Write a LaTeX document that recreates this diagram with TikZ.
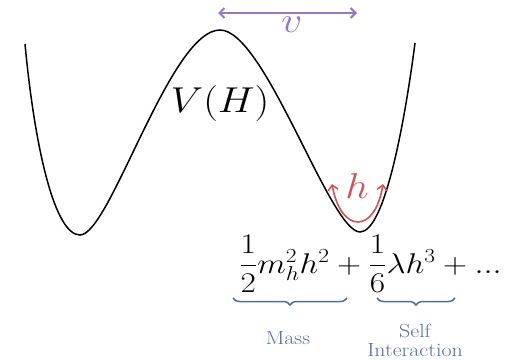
\RequirePackage{fix-cm}
\documentclass[tikz,border=0pt]{standalone}
\usepackage{amsmath}
\usetikzlibrary{arrows.meta,decorations.pathreplacing}
\definecolor{vpurple}{RGB}{150,120,195}
\definecolor{hred}{RGB}{205,85,90}
\definecolor{bblue}{RGB}{75,110,170}
\definecolor{tblue}{RGB}{85,110,160}
\tikzset{
  curve/.style={line width=1.5pt, black},
  varrow/.style={vpurple, line width=2pt, {Straight Barb[length=5pt,width=10pt]}-{Straight Barb[length=5pt,width=10pt]}},
  harrow/.style={hred, line width=1.6pt, {Straight Barb[length=5pt,width=10pt]}-{Straight Barb[length=5pt,width=10pt]}},
  bracestyle/.style={bblue, line width=1.5pt, decorate, decoration={brace, mirror, amplitude=7pt, aspect=0.5}},
  bigmath/.style={inner sep=0pt, font=\fontsize{36}{40}\selectfont},
  lab/.style={inner sep=0pt, tblue, font=\fontsize{19}{22}\selectfont, align=center}
}
\newcommand{\wide}[1]{\scalebox{1.15}[1]{#1}}
\begin{document}
\begin{tikzpicture}[x=1pt,y=-1pt]
\useasboundingbox (0,0) rectangle (529,359);
% potential curve
\draw[curve] (25,44) .. controls (35,150) and (55,235) .. (80,235)
  .. controls (110,235) and (170,30) .. (220,30)
  .. controls (265,30) and (330,232) .. (360,232)
  .. controls (385,232) and (405,120) .. (415,43);
% labels
\node[bigmath] (VH) at (220,103) {\wide{$V(H)$}};
\coordinate (vl) at (218,13);
\coordinate (vr) at (357,13);
\draw[varrow] (vl) -- (vr);
\node[bigmath, vpurple] (v) at (292,25) {\wide{$v$}};
\coordinate (hl) at (332,184);
\coordinate (hr) at (383,184);
\draw[harrow] (hl) .. controls (341,234) and (375,234) .. (hr);
\node[bigmath, hred] (h) at (357,186) {\wide{$h$}};
% formula
\node[inner sep=0pt, anchor=base west, font=\fontsize{28.5}{34}\selectfont] (F) at (239,273)
  {\scalebox{1.17}[1]{$\dfrac{1}{2}m_h^2h^2+\dfrac{1}{6}\lambda h^3+{.}{.}{.}$}};
% braces
\coordinate (b1l) at (233,298);
\coordinate (b1r) at (347,298);
\coordinate (b2l) at (377,298);
\coordinate (b2r) at (455,298);
\draw[bracestyle] (b1l) -- (b1r);
\draw[bracestyle] (b2l) -- (b2r);
\node[lab] (mass) at (288,338) {\wide{Mass}};
\node[lab] (self) at (415,340) {\wide{Self}\\[-3pt]\wide{Interaction}};
\end{tikzpicture}
\end{document}
